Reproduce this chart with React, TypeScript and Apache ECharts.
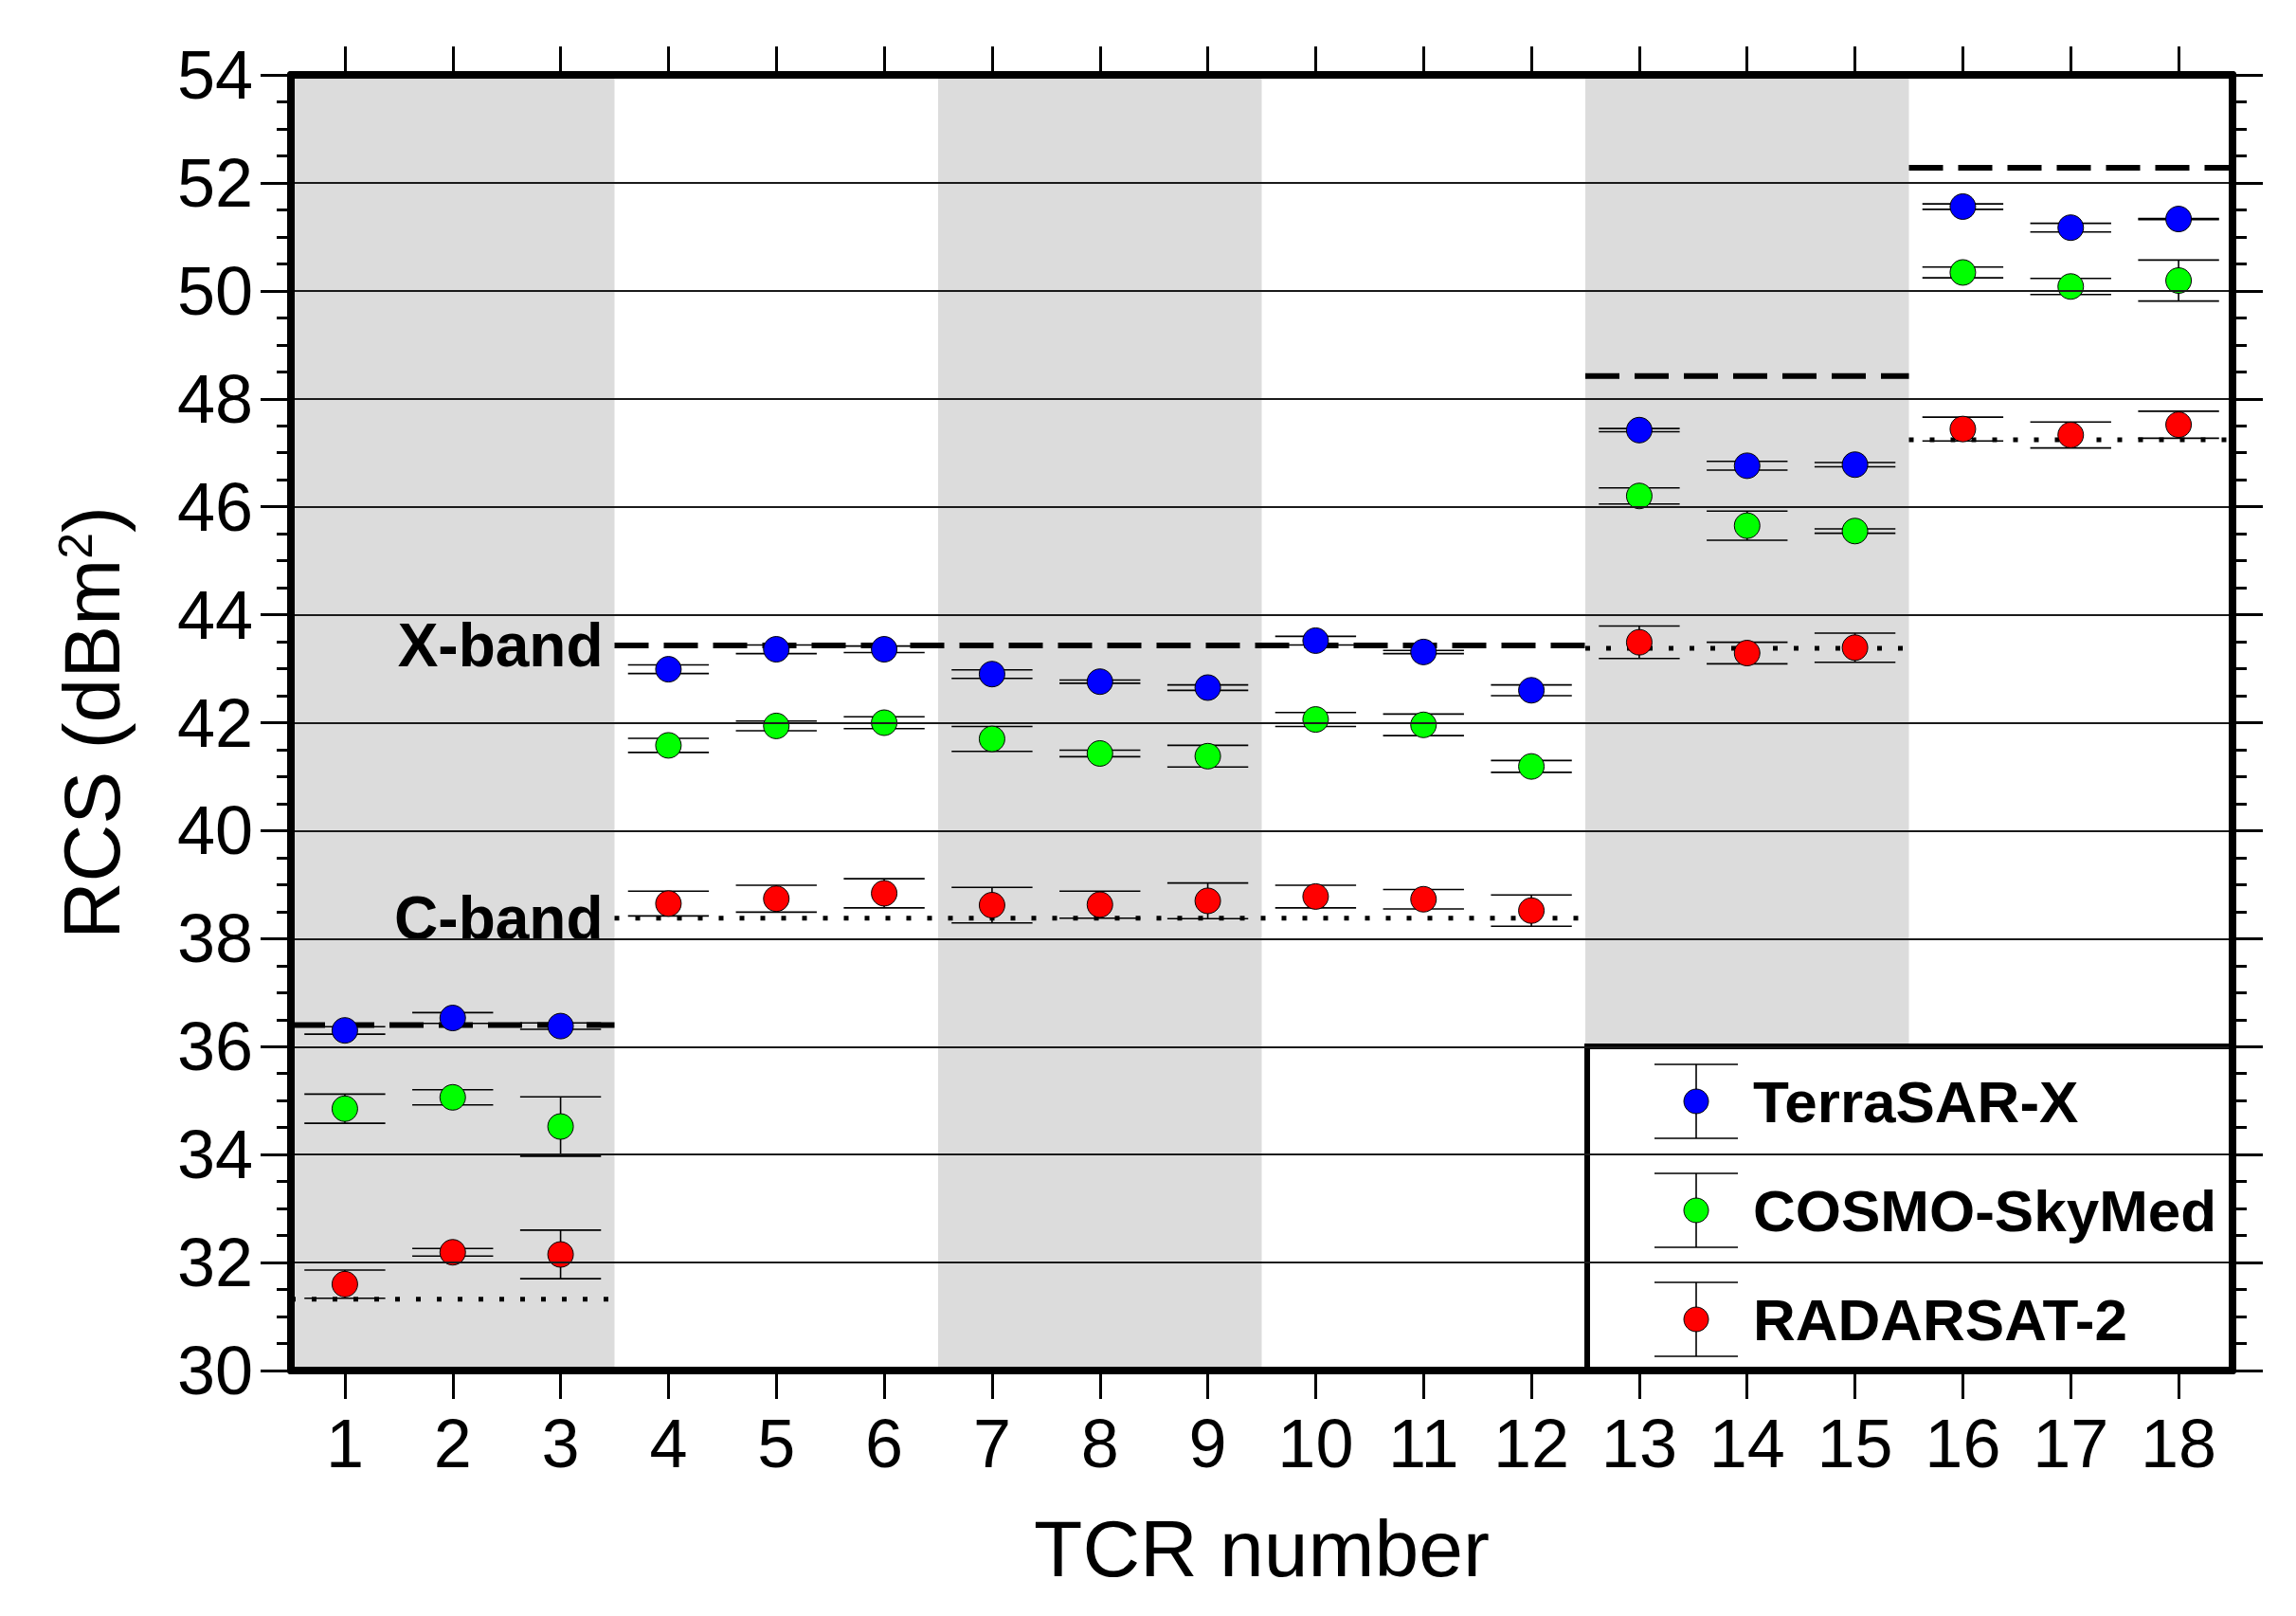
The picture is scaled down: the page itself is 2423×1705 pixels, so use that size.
import React, { useEffect, useRef } from "react";
import * as echarts from "echarts";

// ---------- data ----------
const tcrNumbers = ["1", "2", "3", "4", "5", "6", "7", "8", "9", "10", "11", "12", "13", "14", "15", "16", "17", "18"];

const terraSarX = [36.30, 36.53, 36.38, 42.99, 43.36, 43.36, 42.90, 42.76, 42.65, 43.52, 43.31, 42.60, 47.42, 46.76, 46.78, 51.56, 51.17, 51.33];
const terraSarXErr = [0.07, 0.10, 0.06, 0.08, 0.08, 0.06, 0.08, 0.03, 0.05, 0.08, 0.03, 0.10, 0.03, 0.08, 0.04, 0.05, 0.08, 0.01];

const cosmoSkyMed = [34.85, 35.06, 34.52, 41.58, 41.94, 42.00, 41.70, 41.43, 41.38, 42.06, 41.96, 41.19, 46.20, 45.65, 45.55, 50.34, 50.08, 50.19];
const cosmoSkyMedErr = [0.27, 0.14, 0.55, 0.13, 0.09, 0.11, 0.23, 0.06, 0.20, 0.13, 0.20, 0.11, 0.15, 0.27, 0.04, 0.10, 0.15, 0.38];

const radarsat2 = [31.60, 32.19, 32.15, 38.65, 38.74, 38.84, 38.62, 38.63, 38.70, 38.78, 38.73, 38.52, 43.49, 43.29, 43.39, 47.44, 47.33, 47.52];
const radarsat2Err = [0.26, 0.07, 0.45, 0.23, 0.25, 0.27, 0.33, 0.25, 0.33, 0.21, 0.18, 0.29, 0.30, 0.20, 0.27, 0.22, 0.24, 0.25];

const seriesNames = ["TerraSAR-X", "COSMO-SkyMed", "RADARSAT-2"];
const seriesColors = ["#0000ff", "#00ff00", "#ff0000"];

// TCR groups (first, last TCR number)
const shadedGroups = [[1, 3], [7, 9], [13, 15]];
const groupRanges = [[1, 3], [4, 12], [13, 15], [16, 18]];
const xBandLevels = [36.40, 43.43, 48.42, 52.28];
const cBandLevels = [31.32, 38.38, 43.38, 47.24];
const bandLabels = ["X-band", "C-band"];
const labelledGroup = 1;

const yMin = 30;
const yMax = 54;
const yInterval = 2;

// ---------- layout ----------
const W = 2423;
const H = 1705;
const FONT = "'Liberation Sans', Arial, Helvetica, sans-serif";
const GRID = { left: 307, right: 67, top: 79, bottom: 259 };

const LEG = { x: 1675, y: 1104, w: 681, h: 342, markerX: 1790, textX: 1850, rowY: [1162, 1277, 1392], capHalf: 44, barHalf: 39 };

const allValues = [terraSarX, cosmoSkyMed, radarsat2];
const allErrors = [terraSarXErr, cosmoSkyMedErr, radarsat2Err];

function buildOption(): any {
  const series: any[] = [];

  // shaded bands
  series.push({
    type: "custom",
    z: 1,
    silent: true,
    encode: { x: 0, y: 1 },
    data: shadedGroups.map((g) => [g[0] - 1, 42]),
    renderItem: (params: any, api: any) => {
      const g = shadedGroups[params.dataIndex];
      const w = api.size([1, 0])[0];
      const x0 = api.coord([g[0] - 1, 42])[0] - w / 2;
      const x1 = api.coord([g[1] - 1, 42])[0] + w / 2;
      const cs = params.coordSys;
      return {
        type: "rect",
        shape: { x: x0, y: cs.y, width: x1 - x0, height: cs.height },
        style: { fill: "#dcdcdc" },
      };
    },
  });

  // reference lines (X-band dashed, C-band dotted)
  const refLine = (levels: number[], dash: number[], width: number, label: string) => ({
    type: "custom",
    z: 3,
    silent: true,
    encode: { x: [0, 1], y: 2 },
    data: groupRanges.map((g, i) => [g[0] - 1, g[1] - 1, levels[i]]),
    renderItem: (params: any, api: any) => {
      const w = api.size([1, 0])[0];
      const p0 = api.coord([api.value(0), api.value(2)]);
      const p1 = api.coord([api.value(1), api.value(2)]);
      const children: any[] = [
        {
          type: "line",
          shape: { x1: p0[0] - w / 2, y1: p0[1], x2: p1[0] + w / 2, y2: p1[1] },
          style: { stroke: "#000", lineWidth: width, lineDash: dash, lineCap: "butt" },
        },
      ];
      if (params.dataIndex === labelledGroup) {
        children.push({
          type: "text",
          x: p0[0] - w / 2 - 12,
          y: p0[1],
          style: {
            text: label,
            align: "right",
            verticalAlign: "middle",
            font: `bold 64px ${FONT}`,
            fill: "#000",
          },
        });
      }
      return { type: "group", children };
    },
  });
  series.push(refLine(xBandLevels, [36, 16], 6, bandLabels[0]));
  series.push(refLine(cBandLevels, [5, 17], 5, bandLabels[1]));

  // error bars + points
  allValues.forEach((vals, s) => {
    const errs = allErrors[s];
    series.push({
      type: "custom",
      name: seriesNames[s] + " error",
      z: 4,
      silent: true,
      encode: { x: 0, y: [1, 2] },
      data: vals.map((v, i) => [i, v - errs[i], v + errs[i]]),
      renderItem: (params: any, api: any) => {
        const w = api.size([1, 0])[0];
        const half = w * 0.375;
        const lo = api.coord([api.value(0), api.value(1)]);
        const hi = api.coord([api.value(0), api.value(2)]);
        const st = { stroke: "#000", lineWidth: 1.6 };
        return {
          type: "group",
          children: [
            { type: "line", shape: { x1: lo[0], y1: lo[1], x2: hi[0], y2: hi[1] }, style: st },
            { type: "line", shape: { x1: lo[0] - half, y1: lo[1], x2: lo[0] + half, y2: lo[1] }, style: st },
            { type: "line", shape: { x1: hi[0] - half, y1: hi[1], x2: hi[0] + half, y2: hi[1] }, style: st },
          ],
        };
      },
    });
    series.push({
      type: "scatter",
      name: seriesNames[s],
      z: 5,
      symbol: "circle",
      symbolSize: 27,
      itemStyle: { color: seriesColors[s], borderColor: "#000", borderWidth: 1, opacity: 1 },
      data: vals.map((v, i) => [i, v]),
    });
  });

  // legend drawn with graphic elements
  const graphic: any[] = [
    {
      type: "rect",
      z: 10,
      silent: true,
      shape: { x: LEG.x, y: LEG.y, width: LEG.w, height: LEG.h },
      style: { fill: "#fff", stroke: "#000", lineWidth: 6 },
    },
  ];
  seriesNames.forEach((name, i) => {
    const cy = LEG.rowY[i];
    const st = { stroke: "#000", lineWidth: 1.6 };
    graphic.push(
      { type: "line", z: 21, silent: true, shape: { x1: LEG.markerX, y1: cy - LEG.barHalf, x2: LEG.markerX, y2: cy + LEG.barHalf }, style: st },
      { type: "line", z: 21, silent: true, shape: { x1: LEG.markerX - LEG.capHalf, y1: cy - LEG.barHalf, x2: LEG.markerX + LEG.capHalf, y2: cy - LEG.barHalf }, style: st },
      { type: "line", z: 21, silent: true, shape: { x1: LEG.markerX - LEG.capHalf, y1: cy + LEG.barHalf, x2: LEG.markerX + LEG.capHalf, y2: cy + LEG.barHalf }, style: st },
      { type: "circle", z: 22, silent: true, shape: { cx: LEG.markerX, cy, r: 13 }, style: { fill: seriesColors[i], stroke: "#000", lineWidth: 1 } },
      {
        type: "text",
        z: 22,
        silent: true,
        x: LEG.textX,
        y: cy,
        style: { text: name, font: `bold 62px ${FONT}`, fill: "#000", align: "left", verticalAlign: "middle" },
      }
    );
  });

  const axisLine = { show: true, onZero: false, lineStyle: { color: "#000", width: 8 } };
  const tickStyle = { color: "#000", width: 3 };

  return {
    animation: false,
    backgroundColor: "#fff",
    grid: { ...GRID, containLabel: false },
    xAxis: [
      {
        type: "category",
        data: tcrNumbers,
        position: "bottom",
        z: 20,
        boundaryGap: true,
        axisLine,
        axisTick: { show: true, alignWithLabel: true, inside: false, length: 30, lineStyle: tickStyle },
        axisLabel: { show: true, margin: 41, fontSize: 72, fontFamily: FONT, color: "#000" },
        splitLine: { show: false },
        name: "TCR number",
        nameLocation: "middle",
        nameGap: 146,
        nameTextStyle: { fontSize: 84, fontFamily: FONT, color: "#000" },
      },
      {
        type: "category",
        data: tcrNumbers,
        position: "top",
        z: 20,
        boundaryGap: true,
        axisLine,
        axisTick: { show: true, alignWithLabel: true, inside: false, length: 30, lineStyle: tickStyle },
        axisLabel: { show: false },
        splitLine: { show: false },
      },
    ],
    yAxis: [
      {
        type: "value",
        position: "left",
        min: yMin,
        max: yMax,
        interval: yInterval,
        z: 20,
        axisLine,
        axisTick: { show: true, inside: false, length: 32, lineStyle: tickStyle },
        minorTick: { show: true, splitNumber: 4, length: 15, lineStyle: tickStyle },
        axisLabel: { show: true, margin: 40, fontSize: 72, fontFamily: FONT, color: "#000" },
        splitLine: { show: true, lineStyle: { color: "#1a1a1a", width: 1.8 } },
        minorSplitLine: { show: false },
        name: "RCS (dBm{sup|2})",
        nameLocation: "middle",
        nameGap: 168,
        nameRotate: 90,
        nameTextStyle: {
          fontSize: 84,
          fontFamily: FONT,
          color: "#000",
          rich: { sup: { fontSize: 50, fontFamily: FONT, color: "#000", verticalAlign: "top", lineHeight: 84 } },
        },
      },
      {
        type: "value",
        position: "right",
        min: yMin,
        max: yMax,
        interval: yInterval,
        z: 20,
        axisLine,
        axisTick: { show: true, inside: false, length: 32, lineStyle: tickStyle },
        minorTick: { show: true, splitNumber: 4, length: 15, lineStyle: tickStyle },
        axisLabel: { show: false },
        splitLine: { show: false },
      },
    ],
    graphic,
    series,
  };
}

export default function App() {
  const ref = useRef<HTMLDivElement | null>(null);
  useEffect(() => {
    if (!ref.current) return;
    const chart = echarts.init(ref.current, undefined, { renderer: "svg", width: W, height: H });
    chart.setOption(buildOption());
    return () => chart.dispose();
  }, []);
  return (
    <div
      ref={ref}
      style={{ position: "fixed", left: 0, top: 0, width: W, height: H, background: "#fff" }}
    />
  );
}
